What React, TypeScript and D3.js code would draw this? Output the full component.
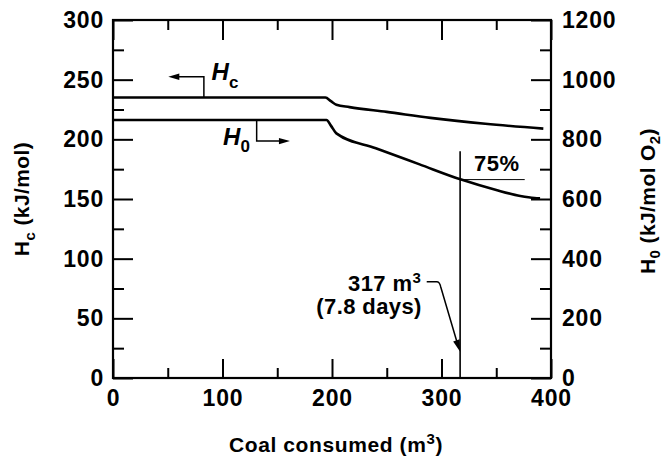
import { useEffect, useRef } from 'react';
import * as d3 from 'd3';

// coal consumed (m3) and enthalpy readings
const coalHc = [0, 194, 199, 204, 216, 250, 290, 340, 393];
const hcValues = [235, 235, 232, 229, 227, 223, 218, 213, 209];
const coalH0 = [0, 195, 199, 204, 240, 280, 318, 350, 372, 385, 390];
const h0Values = [865, 865, 846, 820, 770, 716, 665, 630, 610, 603, 602];

const xMajor = [0, 100, 200, 300, 400];
const xMinor = [50, 150, 250, 350];
const hcMajor = [0, 50, 100, 150, 200, 250, 300];
const hcMinor = [25, 75, 125, 175, 225, 275];
const h0Major = [0, 200, 400, 600, 800, 1000, 1200];
const h0Minor = [100, 300, 500, 700, 900, 1100];

const crossCoal = 317;
const crossH0 = 665;

const W = 666;
const H = 457;
const margin = { top: 20, right: 115, bottom: 79, left: 113 };
const FONT = "'Liberation Sans', Arial, sans-serif";

export default function App() {
    const svgRef = useRef<SVGSVGElement | null>(null);

    useEffect(() => {
        document.body.style.margin = '0';
        const svg = d3.select(svgRef.current);
        svg.selectAll('*').remove();

        const x = d3.scaleLinear().domain([0, 400]).range([margin.left, W - margin.right]);
        const yL = d3.scaleLinear().domain([0, 300]).range([H - margin.bottom, margin.top]);
        const yR = d3.scaleLinear().domain([0, 1200]).range([H - margin.bottom, margin.top]);
        const x0 = margin.left, x1 = W - margin.right, y0 = H - margin.bottom, y1 = margin.top;

        const g = svg.append('g').style('font-family', FONT).style('font-weight', 'bold');

        const styleAxis = (sel: any) => {
            sel.select('.domain').remove();
            sel.selectAll('line').attr('stroke', '#000').attr('stroke-width', 2);
            sel.selectAll('text').attr('fill', '#000').style('font-size', '23px')
                .style('letter-spacing', '0.8px')
                .style('font-family', FONT).style('font-weight', 'bold');
        };

        // bottom
        g.append('g').attr('transform', `translate(0,${y0})`)
            .call(d3.axisBottom(x).tickValues(xMajor).tickSize(-19).tickPadding(12).tickFormat(d3.format('d')))
            .call(styleAxis);
        g.append('g').attr('transform', `translate(0,${y0})`)
            .call(d3.axisBottom(x).tickValues(xMinor).tickSize(-10).tickFormat(() => ''))
            .call(styleAxis);
        // top
        g.append('g').attr('transform', `translate(0,${y1})`)
            .call(d3.axisTop(x).tickValues(xMajor).tickSize(-20).tickFormat(() => ''))
            .call(styleAxis);
        g.append('g').attr('transform', `translate(0,${y1})`)
            .call(d3.axisTop(x).tickValues(xMinor).tickSize(-10).tickFormat(() => ''))
            .call(styleAxis);
        // left
        g.append('g').attr('transform', `translate(${x0},0)`)
            .call(d3.axisLeft(yL).tickValues(hcMajor).tickSize(-20).tickPadding(9).tickFormat(d3.format('d')))
            .call(styleAxis);
        g.append('g').attr('transform', `translate(${x0},0)`)
            .call(d3.axisLeft(yL).tickValues(hcMinor).tickSize(-11).tickFormat(() => ''))
            .call(styleAxis);
        // right
        g.append('g').attr('transform', `translate(${x1},0)`)
            .call(d3.axisRight(yR).tickValues(h0Major).tickSize(-20).tickPadding(11).tickFormat(d3.format('d')))
            .call(styleAxis);
        g.append('g').attr('transform', `translate(${x1},0)`)
            .call(d3.axisRight(yR).tickValues(h0Minor).tickSize(-11).tickFormat(() => ''))
            .call(styleAxis);

        // frame
        g.append('rect').attr('x', x0).attr('y', y1).attr('width', x1 - x0).attr('height', y0 - y1)
            .attr('fill', 'none').attr('stroke', '#000').attr('stroke-width', 2.2);

        // curves
        const lineHc = d3.line<number>().x((d, i) => x(coalHc[i])).y(d => yL(d)).curve(d3.curveMonotoneX);
        const lineH0 = d3.line<number>().x((d, i) => x(coalH0[i])).y(d => yR(d)).curve(d3.curveMonotoneX);
        g.append('path').attr('d', lineHc(hcValues)).attr('fill', 'none').attr('stroke', '#000').attr('stroke-width', 2.6);
        g.append('path').attr('d', lineH0(h0Values)).attr('fill', 'none').attr('stroke', '#000').attr('stroke-width', 2.6);

        const arrowHead = (tx: number, ty: number, angle: number, len = 11, half = 3.2) => {
            const ca = Math.cos(angle), sa = Math.sin(angle);
            const bx = tx - len * ca, by = ty - len * sa;
            return `M${tx},${ty}L${bx - half * sa},${by + half * ca}L${bx + half * sa},${by - half * ca}Z`;
        };

        // Hc pointer (to left axis)
        const hcBendX = x(83), hcTopY = yL(252.5), hcTipX = x(50.5);
        g.append('path').attr('d', `M${hcBendX},${yL(235)}V${hcTopY}H${hcTipX + 6}`)
            .attr('fill', 'none').attr('stroke', '#000').attr('stroke-width', 1.5);
        g.append('path').attr('d', arrowHead(hcTipX, hcTopY, Math.PI)).attr('fill', '#000');
        const hcLabel = g.append('text').attr('x', x(90)).attr('y', yL(249.5))
            .style('font-size', '24px').style('font-style', 'italic');
        hcLabel.append('tspan').text('H');
        hcLabel.append('tspan').attr('dy', 8).style('font-size', '17px').style('font-style', 'normal').text('c');

        // H0 pointer (to right axis)
        const h0BendX = x(131.2), h0BotY = yR(794), h0TipX = x(161.6);
        g.append('path').attr('d', `M${h0BendX},${yR(865)}V${h0BotY}H${h0TipX - 6}`)
            .attr('fill', 'none').attr('stroke', '#000').attr('stroke-width', 1.5);
        g.append('path').attr('d', arrowHead(h0TipX, h0BotY, 0)).attr('fill', '#000');
        const h0Label = g.append('text').attr('x', x(100.5)).attr('y', yL(195.5))
            .style('font-size', '24px').style('font-style', 'italic');
        h0Label.append('tspan').text('H');
        h0Label.append('tspan').attr('dy', 7).style('font-size', '17px').style('font-style', 'normal').text('0');

        // 75% marker
        g.append('line').attr('x1', x(crossCoal)).attr('x2', x(crossCoal))
            .attr('y1', y0).attr('y2', yL(190)).attr('stroke', '#000').attr('stroke-width', 1.6);
        g.append('line').attr('x1', x(crossCoal)).attr('x2', x(376))
            .attr('y1', yR(crossH0)).attr('y2', yR(crossH0)).attr('stroke', '#000').attr('stroke-width', 1);
        g.append('text').attr('x', x(350.5)).attr('y', yL(173.5)).attr('text-anchor', 'middle')
            .style('font-size', '22px').style('letter-spacing', '0.5px').text('75%');

        // 317 m3 annotation
        const tipX = x(crossCoal), tipY = yL(22);
        const startX = x(286.5), startY = yL(80.7), kneeX = x(295.6);
        const ang = Math.atan2(tipY - startY - 4, tipX - kneeX - 2);
        g.append('path')
            .attr('d', `M${startX},${startY}H${kneeX}Q${kneeX + 3},${startY} ${kneeX + 4},${startY + 5}L${tipX - 9 * Math.cos(ang)},${tipY - 9 * Math.sin(ang)}`)
            .attr('fill', 'none').attr('stroke', '#000').attr('stroke-width', 1.5);
        g.append('path').attr('d', arrowHead(tipX, tipY, ang, 12, 3.4)).attr('fill', '#000');

        const t1 = g.append('text').attr('x', x(281.5)).attr('y', yL(73)).attr('text-anchor', 'end')
            .style('font-size', '22px').style('letter-spacing', '0.4px');
        t1.append('tspan').text('317 m');
        t1.append('tspan').attr('dy', -8).style('font-size', '15px').text('3');
        g.append('text').attr('x', x(282)).attr('y', yL(53.5)).attr('text-anchor', 'end')
            .style('font-size', '22px').style('letter-spacing', '0.4px').text('(7.8 days)');

        // axis titles
        const xt = g.append('text').attr('x', (x0 + x1) / 2 + 4).attr('y', 452).attr('text-anchor', 'middle')
            .style('font-size', '21px').style('letter-spacing', '0.6px');
        xt.append('tspan').text('Coal consumed (m');
        xt.append('tspan').attr('dy', -8).style('font-size', '15px').text('3');
        xt.append('tspan').attr('dy', 8).text(')');

        const lt = g.append('text').attr('transform', `translate(29,${(y0 + y1) / 2}) rotate(-90)`)
            .attr('text-anchor', 'middle').style('font-size', '21px').style('letter-spacing', '0.4px');
        lt.append('tspan').text('H');
        lt.append('tspan').attr('dy', 6).style('font-size', '15px').text('c');
        lt.append('tspan').attr('dy', -6).text(' (kJ/mol)');

        const rt = g.append('text').attr('transform', `translate(655,${(y0 + y1) / 2 + 2}) rotate(-90)`)
            .attr('text-anchor', 'middle').style('font-size', '21px').style('letter-spacing', '0.4px');
        rt.append('tspan').text('H');
        rt.append('tspan').attr('dy', 5).style('font-size', '15px').text('0');
        rt.append('tspan').attr('dy', -5).text(' (kJ/mol O');
        rt.append('tspan').attr('dy', 5).style('font-size', '15px').text('2');
        rt.append('tspan').attr('dy', -5).text(')');
    }, []);

    return (
        <svg ref={svgRef} width={W} height={H}
            style={{ display: 'block', position: 'absolute', left: 0, top: 0, background: '#fff' }} />
    );
}
